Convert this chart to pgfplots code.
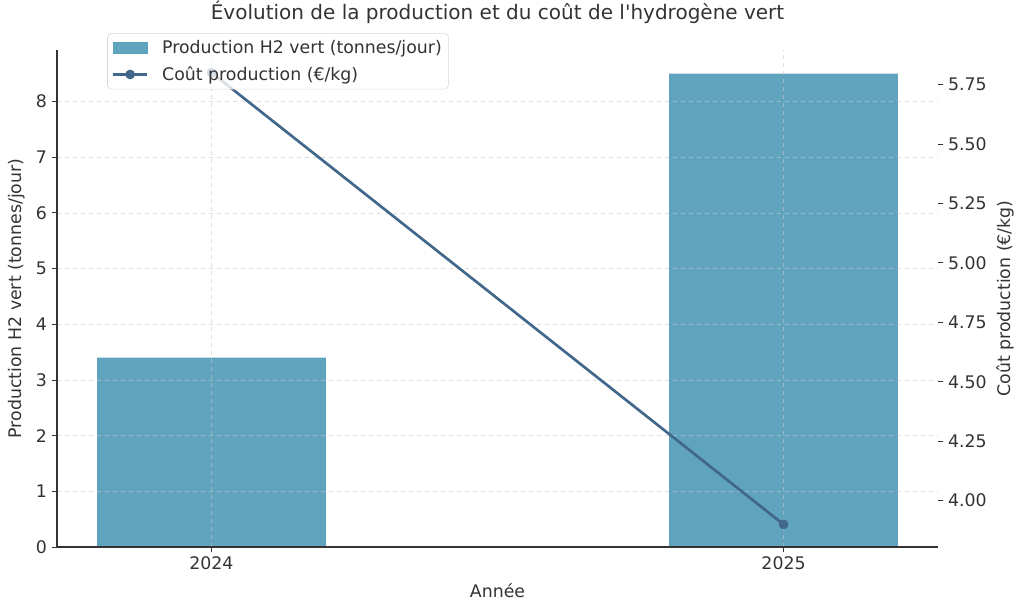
\documentclass[border=0pt]{standalone}
\usepackage{pgfplots}
\pgfplotsset{compat=1.18}
\usepackage{fontspec}
\setmainfont{DejaVu Sans}
\definecolor{barcol}{HTML}{5FA3BD}
\definecolor{linecol}{HTML}{41678A}
\definecolor{txt}{HTML}{333333}

\pgfplotsset{
  common/.style={
    at={(0,0)}, anchor=south west,
    scale only axis, width=660.75pt, height=372.75pt,
    xmin=-0.27, xmax=1.27,
    tick align=outside, major tick length=4pt,
    tick style={txt, line width=0.6pt},
    axis line style={-, txt, line width=0.8pt},
    ticklabel style={font=\fontsize{13}{15}\selectfont, text=txt},
    label style={font=\fontsize{13}{15}\selectfont, text=txt},
    /pgf/number format/assume math mode=true,
  }
}

\begin{document}
\begin{tikzpicture}
\path[use as bounding box] (-42.75pt,-47.25pt) rectangle (725.25pt,410.25pt);

\begin{axis}[
  common,
  ymin=0, ymax=8.925,
  axis x line*=bottom, axis y line*=left,
  xtick={0,1}, xticklabels={2024,2025},
  ytick={0,1,2,3,4,5,6,7,8},
  xmajorgrids, ymajorgrids,
  major grid style={dashed, gray!45, opacity=0.6, line width=0.5pt},
  axis on top,
  title={Évolution de la production et du coût de l\textquotesingle hydrogène vert},
  title style={at={(axis description cs:0.5,1.06)}, anchor=center,
    font=\fontsize{15}{17}\selectfont, text=txt},
  xlabel={Année},
  xlabel style={at={(axis description cs:0.5,-0.0885)}, anchor=center},
  ylabel={Production H2 vert (tonnes/jour)},
  ylabel style={at={(axis description cs:-0.0454,0.5)}, anchor=center},
]
\addplot[ybar, bar width=0.4, bar shift=0pt, fill=barcol, draw=none]
  coordinates {(0,3.4) (1,8.5)};
\end{axis}

\begin{axis}[
  common,
  ymin=3.805, ymax=5.895,
  axis y line*=right, axis x line=none,
  y axis line style={draw=none},
  ytick={4,4.25,4.5,4.75,5,5.25,5.5,5.75},
  yticklabel style={/pgf/number format/.cd, fixed, fixed zerofill, precision=2},
  ylabel={Coût production (€/kg)},
  ylabel style={at={(axis description cs:1.076,0.5)}, anchor=center, rotate=0},
  legend cell align=left,
  legend style={at={(axis description cs:0.057,1.034)}, anchor=north west,
    draw=black!15, rounded corners=3pt, fill=white, fill opacity=0.8,
    text opacity=1, text=txt, font=\fontsize{13}{15}\selectfont,
    row sep=4.5pt, column sep=8pt, inner sep=3pt},
]
\addlegendimage{legend image code/.code={\fill[barcol, sharp corners, fill opacity=1]
  (0pt,-4pt) rectangle (26pt,4pt);}}
\addlegendentry{Production H2 vert (tonnes/jour)}
\addplot[linecol, line width=2pt, mark=*, mark size=2.6pt,
  mark options={fill=linecol, draw=linecol},
  legend image code/.code={\draw[sharp corners, mark repeat=2, mark phase=2]
    plot coordinates {(0pt,0pt) (13pt,0pt) (26pt,0pt)};}]
  coordinates {(0,5.8) (1,3.9)};
\addlegendentry{Coût production (€/kg)}
\end{axis}
\end{tikzpicture}
\end{document}
